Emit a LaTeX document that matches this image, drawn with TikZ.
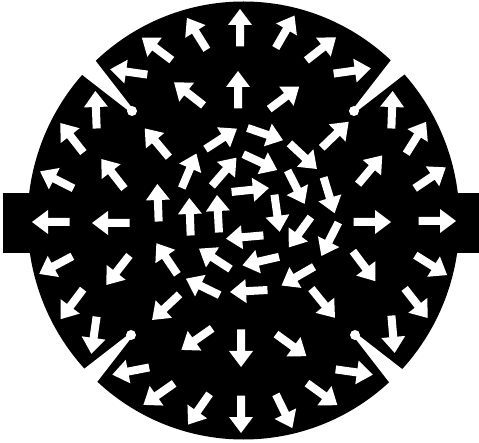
\documentclass[tikz,border=0pt]{standalone}
\begin{document}
\begin{tikzpicture}[x=1pt,y=1pt]
\tikzset{arr/.pic={\fill[white] (-18.5,-4) -- (3,-4) -- (3,-12) -- (19,0) -- (3,12) -- (3,4) -- (-18.5,4) -- cycle;},
  slit/.pic={\fill[white] (0,-2) -- (95,-14) -- (95,14) -- (0,2) -- cycle; \fill[white] (0,0) circle (5);}}
\useasboundingbox (0,0) rectangle (479,-443);
\fill[white] (0,0) rectangle (479,-443);
\fill[black] (243.5,-220.5) ellipse [x radius=216, y radius=219];
\fill[black] (3,-193) rectangle (479,-253);
\path (132,-111) pic[rotate=135]{slit};
\path (354,-111) pic[rotate=45]{slit};
\path (131,-335) pic[rotate=225]{slit};
\path (355,-335) pic[rotate=-45]{slit};
\foreach \x/\y/\a in {
240/28/90, 197/34/122, 285/32/60, 157/49/143, 321/49/38, 129/72/172, 352/71/8,
96/110/92, 392/110/88, 72/138/128, 416/138/58, 57/180/153, 430/178/34,
51/222/180, 437/221/0, 56/265/208, 431/265/-32, 72/304/233, 416/303/-52,
94/335/262, 393/334/-85, 131/371/191, 354/372/-8, 159/394/215, 322/394/-36,
199/409/235, 284/411/-64, 241/414/270,
238/90/90, 189/94/142, 284/98/37, 111/223/180, 372/222/0, 118/270/232, 364/266/-53,
157/143/130, 113/174/128, 335/135/44, 370/170/50, 166/307/223, 197/339/215,
241/348/270, 291/345/-36, 323/303/-51, 298/276/210, 330/239/243, 300/232/234,
221/139/33, 265/134/-19, 303/156/-43, 224/172/49, 189/171/67, 260/162/-25,
296/187/-63, 329/195/-73, 250/190/6, 277/213/-82, 158/203/92, 190/217/92,
218/214/93, 245/237/185, 261/261/193, 249/291/183, 167/259/124, 215/259/147,
203/287/154}
  \path (\x,-\y) pic[rotate=\a]{arr};
\end{tikzpicture}
\end{document}
